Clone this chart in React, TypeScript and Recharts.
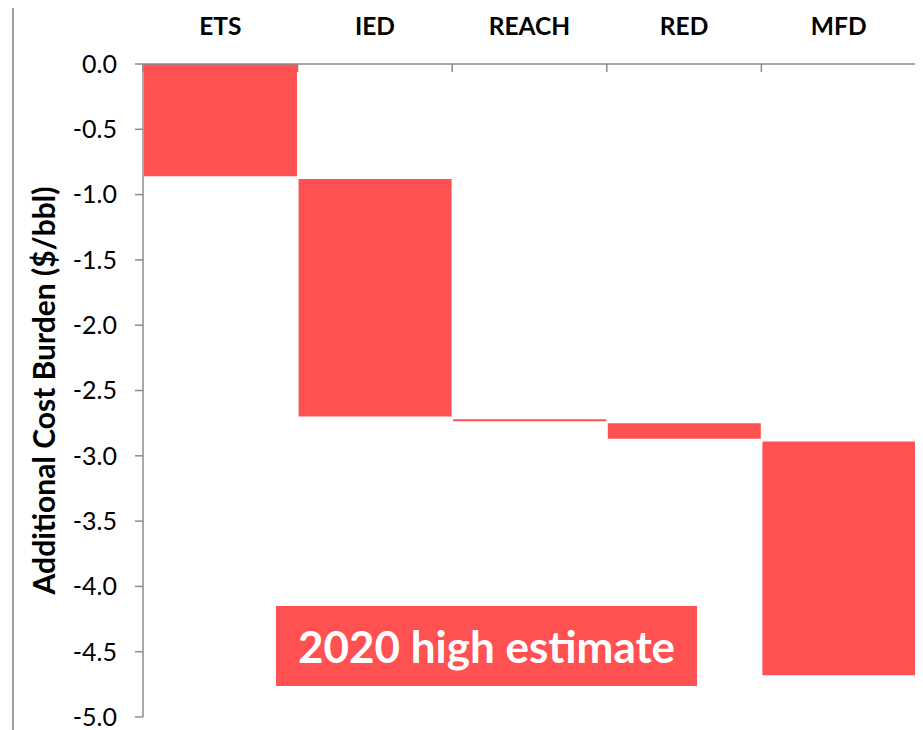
import React from "react"
import { Bar, BarChart, XAxis, YAxis } from "recharts"

const categories = ["ETS", "IED", "REACH", "RED", "MFD"]
const barStart = [0, -0.88, -2.72, -2.75, -2.89]
const barEnd = [-0.86, -2.7, -2.735, -2.87, -4.68]
const yTicks = [0, -0.5, -1, -1.5, -2, -2.5, -3, -3.5, -4, -4.5, -5]

const data = categories.map((name, i) => ({
  name,
  range: [barStart[i], barEnd[i]],
}))

const W = 923
const H = 730
const MARGIN = { top: 24, right: 7, bottom: 13, left: 63 }
const X_AXIS_H = 40
const Y_AXIS_W = 80
const PLOT_TOP = MARGIN.top + X_AXIS_H
const PLOT_LEFT = MARGIN.left + Y_AXIS_W
const BAND = (W - MARGIN.right - PLOT_LEFT) / categories.length

const FONT = "Lato, 'Open Sans', sans-serif"
const RED = "#ff5151"
const AXIS = "#8c8c8c"

function CategoryTick(props: any) {
  const { x, index, payload } = props
  const left = x - BAND / 2
  const right = x + BAND / 2
  return (
    <g>
      <text x={x} y={PLOT_TOP - 29} textAnchor="middle" fontFamily={FONT} fontWeight={700} fontSize={24.5} fill="#000">
        {payload.value}
      </text>
      <line x1={left} x2={left} y1={PLOT_TOP} y2={PLOT_TOP + 8} stroke={AXIS} strokeWidth={1.5} />
      {index === categories.length - 1 && (
        <line x1={right} x2={right} y1={PLOT_TOP} y2={PLOT_TOP + 8} stroke={AXIS} strokeWidth={1.5} />
      )}
    </g>
  )
}

export default function App() {
  return (
    <div style={{ position: "relative", marginLeft: -8, marginTop: -8, width: W, height: H, background: "#fff" }}>
      <div
        style={{
          position: "absolute",
          left: 12,
          top: 5,
          width: W - 12,
          height: H - 5,
          borderTop: "2px solid #a0a0a0",
          borderLeft: "2px solid #a0a0a0",
        }}
      />
      <BarChart width={W} height={H} data={data} margin={MARGIN} barCategoryGap={1} style={{ position: "absolute", left: 0, top: 0 }}>
        <XAxis
          dataKey="name"
          orientation="top"
          height={X_AXIS_H}
          axisLine={{ stroke: AXIS, strokeWidth: 1.5 }}
          tickLine={false}
          tick={<CategoryTick />}
          interval={0}
        />
        <YAxis
          type="number"
          domain={[-5, 0]}
          ticks={yTicks}
          width={Y_AXIS_W}
          interval={0}
          axisLine={{ stroke: AXIS, strokeWidth: 1.5 }}
          tickLine={{ stroke: AXIS, strokeWidth: 1.5 }}
          tickSize={8}
          tickMargin={18}
          tick={{ fontFamily: FONT, fontSize: 25, fill: "#000" }}
          tickFormatter={(v: number) => v.toFixed(1)}
          label={{
            content: ({ viewBox }: any) => {
              const cx = viewBox.x - 20
              const cy = viewBox.y + viewBox.height / 2
              return (
                <text
                  x={cx}
                  y={cy}
                  transform={`rotate(-90, ${cx}, ${cy})`}
                  textAnchor="middle"
                  dominantBaseline="central"
                  fontFamily={FONT}
                  fontWeight={700}
                  fontSize={30}
                  fill="#000"
                >
                  Additional Cost Burden ($/bbl)
                </text>
              )
            },
          }}
        />
        <Bar dataKey="range" fill={RED} isAnimationActive={false} />
      </BarChart>
      <div
        style={{
          position: "absolute",
          left: 276,
          top: 606,
          width: 421,
          height: 80,
          background: RED,
          color: "#fff",
          fontFamily: FONT,
          fontWeight: 700,
          fontSize: 44,
          display: "flex",
          alignItems: "center",
          justifyContent: "center",
        }}
      >
        2020 high estimate
      </div>
    </div>
  )
}
